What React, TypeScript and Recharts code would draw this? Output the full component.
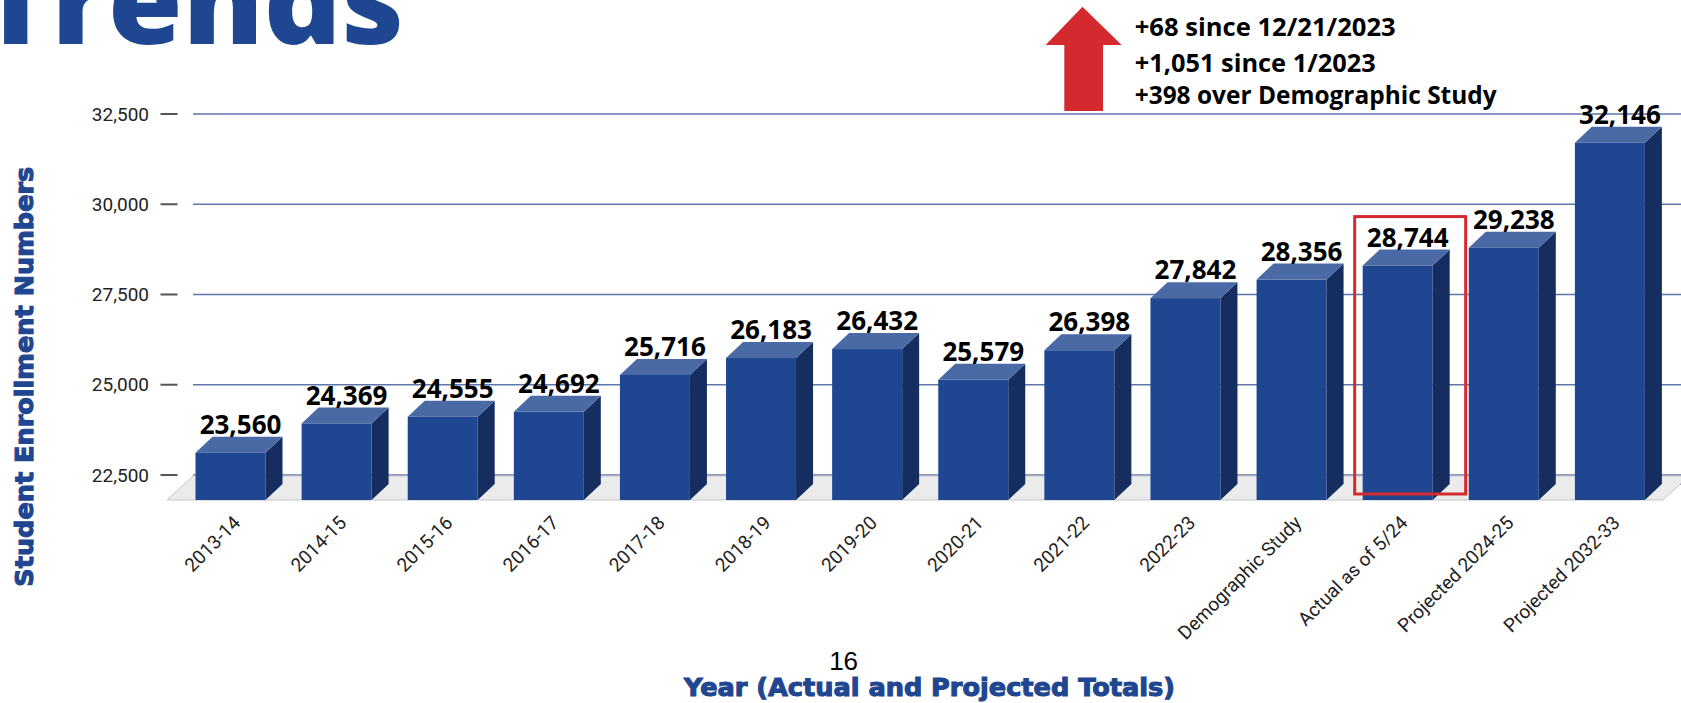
import React from 'react';
import { BarChart, Bar, XAxis, YAxis, CartesianGrid, ReferenceArea, LabelList } from 'recharts';

// enrollment totals
const categories = [
  '2013-14', '2014-15', '2015-16', '2016-17', '2017-18', '2018-19', '2019-20',
  '2020-21', '2021-22', '2022-23', 'Demographic Study', 'Actual as of 5/24',
  'Projected 2024-25', 'Projected 2032-33',
];
const enrollment = [
  23560, 24369, 24555, 24692, 25716, 26183, 26432,
  25579, 26398, 27842, 28356, 28744, 29238, 32146,
];
const yTicks = [22500, 25000, 27500, 30000, 32500];
const yDomain = [22250, 32500];
const highlighted = 'Actual as of 5/24';
const notes = ['+68 since 12/21/2023', '+1,051 since 1/2023', '+398 over Demographic Study'];

const data = categories.map((name, i) => ({ name, value: enrollment[i] }));

const BLUE = '#1f4690';
const TOP = '#4a6aa5';
const SIDE = '#162d5f';
const RED = '#d42a2f';
const DX = 17;
const DY = 16;

const fmt = (v: number) => v.toLocaleString('en-US');

// fake 3d column: front face, lit top, shaded side
function Bar3D(props: any) {
  const { x, y, width: w, height: h, payload } = props;
  const b = y + h;
  return (
    <g>
      <polygon points={`${x + w},${y + DY} ${x + w + DX},${y} ${x + w + DX},${b} ${x + w},${b + DY}`} fill={SIDE} />
      <polygon points={`${x},${y + DY} ${x + DX},${y} ${x + w + DX},${y} ${x + w},${y + DY}`} fill={TOP} />
      <rect x={x} y={y + DY} width={w} height={h} fill={BLUE} />
      {payload && payload.name === highlighted && (
        <rect x={x - 8} y={y - 33} width={w + DX + 24} height={h + 43} fill="none" stroke={RED} strokeWidth={3} />
      )}
    </g>
  );
}

function Floor(props: any) {
  const { x, y, width, height } = props;
  const front = y + height + DY;
  return (
    <polygon
      points={`${x - 10.5},${front} ${x + width},${front} ${x + width + 26},${y + 1} ${x + 15.5},${y + 1}`}
      fill="#ebebeb"
      stroke="#c4c4c4"
      strokeWidth={1}
    />
  );
}

function XTick(props: any) {
  const { x, y, payload } = props;
  const ax = x + 11;
  const ay = y + 40;
  return (
    <text
      x={ax}
      y={ay}
      transform={`rotate(-45 ${ax} ${ay})`}
      textAnchor="end"
      fontFamily="Roboto"
      fontSize={19}
      fill="#222"
    >
      {payload.value}
    </text>
  );
}

function ValueLabel(props: any) {
  const { x, y, width, value } = props;
  return (
    <text x={x + width / 2 + 10} y={y - 3} textAnchor="middle" fontFamily="Open Sans" fontWeight={700} fontSize={26} fill="#000">
      {fmt(value)}
    </text>
  );
}

const heavy = { stroke: BLUE, strokeWidth: 1.1, paintOrder: 'stroke' as const };

export default function App() {
  return (
    <div style={{ position: 'absolute', left: 0, top: 0, width: 1681, height: 703, overflow: 'hidden', background: '#fff' }}>
      <BarChart width={1681} height={703} data={data} margin={{ top: 114, right: 18, bottom: 0, left: 0 }}>
        <ReferenceArea y1={yDomain[0]} y2={yTicks[0]} shape={Floor} ifOverflow="visible" />
        <CartesianGrid
          vertical={false}
          horizontal={(p: any) => (
            <line key={'g' + p.y1} x1={p.x1 + 15.5} x2={p.x2 + 26} y1={p.y1} y2={p.y2} stroke="#5f76a8" strokeWidth={1.5} />
          )}
        />
        <XAxis dataKey="name" interval={0} height={219} axisLine={false} tickLine={false} tickSize={0} tickMargin={0} tick={XTick} />
        <YAxis
          type="number"
          domain={yDomain}
          ticks={yTicks}
          width={177.5}
          axisLine={false}
          tickSize={17}
          tickMargin={11.5}
          tickLine={{ stroke: '#555', strokeWidth: 2 }}
          tick={{ fontFamily: 'Roboto', fontSize: 19, fill: '#222' }}
          tickFormatter={fmt}
        />
        <Bar dataKey="value" barSize={70} shape={Bar3D} isAnimationActive={false}>
          <LabelList dataKey="value" content={ValueLabel} />
        </Bar>
      </BarChart>

      <svg width={1681} height={703} style={{ position: 'absolute', left: 0, top: 0, pointerEvents: 'none' }}>
        <text x={-20} y={44} fontFamily="Open Sans" fontWeight={800} fontSize={118} fill={BLUE} textLength={424} lengthAdjust="spacingAndGlyphs">
          Trends
        </text>
        <polygon
          points="1082.5,6.7 1121.6,45 1103,45 1103,111 1064.3,111 1064.3,45 1045.6,45"
          fill={RED}
        />
        <text x={1134.7} y={36} fontFamily="Open Sans" fontWeight={700} fontSize={25} fill="#000" textLength={261} lengthAdjust="spacingAndGlyphs">{notes[0]}</text>
        <text x={1134.7} y={71.5} fontFamily="Open Sans" fontWeight={700} fontSize={25} fill="#000" textLength={241} lengthAdjust="spacingAndGlyphs">{notes[1]}</text>
        <text x={1134.7} y={103.5} fontFamily="Open Sans" fontWeight={700} fontSize={25} fill="#000" textLength={362} lengthAdjust="spacingAndGlyphs">{notes[2]}</text>
        <text
          x={33}
          y={376.7}
          transform="rotate(-90 33 376.7)"
          textAnchor="middle"
          fontFamily="DejaVu Sans"
          fontWeight={700}
          fontSize={25.5}
          fill={BLUE}
          textLength={420}
          lengthAdjust="spacingAndGlyphs"
          {...heavy}
        >
          Student Enrollment Numbers
        </text>
        <text x={843.6} y={670} textAnchor="middle" fontFamily="Liberation Sans" fontSize={26} fill="#000">16</text>
        <text x={929.5} y={696} textAnchor="middle" fontFamily="DejaVu Sans" fontWeight={700} fontSize={25} fill={BLUE} textLength={491} lengthAdjust="spacingAndGlyphs" {...heavy}>
          Year (Actual and Projected Totals)
        </text>
      </svg>
    </div>
  );
}
